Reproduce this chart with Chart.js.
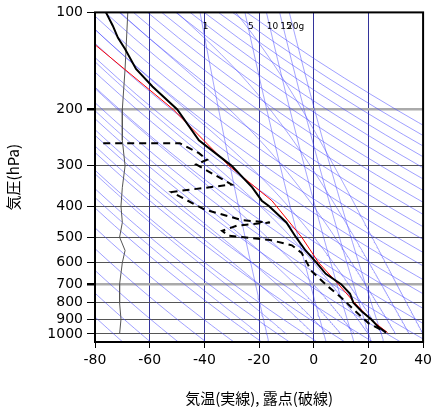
<!DOCTYPE html>
<html>
<head>
<meta charset="utf-8">
<script src="https://cdn.jsdelivr.net/npm/chart.js@4"></script>
<style>
  body { margin: 0; background: #fff; }
  #wrap { width: 436px; height: 411px; }
</style>
</head>
<body>
<div id="wrap"><canvas id="c"></canvas></div>
<script>
// 気温（実線）
const tempP = [100, 110, 120, 130, 150, 170, 200, 250, 300, 350, 385, 400, 450, 500, 550, 600, 650, 700, 750, 800, 850, 900, 950, 990];
const tempT = [-76, -73.5, -71.6, -69, -65, -59, -50, -42, -30, -22.5, -19, -16.4, -10, -6.5, -3, 1, 4.4, 10, 13.3, 14.5, 17.5, 21, 23.6, 26.5];
// 赤線
const parcelP = [126, 200, 300, 385, 500, 600, 700, 800, 900, 990];
const parcelT = [-80, -51.5, -31, -15.3, -4.4, 1.8, 9, 15, 20.7, 27];
// 露点（破線）
const dewP = [255, 255, 274, 287, 297, 343, 359, 362, 410, 443, 450, 460, 478, 495, 510, 530, 560, 600, 635, 715, 770, 845, 925, 970, 985];
const dewT = [-77, -49, -42, -39, -43, -30, -49, -52, -40, -26, -16, -28, -33.5, -31, -16, -8, -4.4, -2.5, -1, 5.5, 10, 15, 20, 24.7, 26];
// 風（左側の細線）
const windP = [100, 150, 200, 250, 300, 350, 400, 450, 500, 550, 600, 700, 800, 900, 1000];
const windT = [-68, -69, -70, -70, -69, -70, -70.5, -70, -71, -69, -70, -71, -71, -70.5, -71];
// 目盛り
const xTicks = [-80, -60, -40, -20, 0, 20, 40];
const yTicks = [100, 200, 300, 400, 500, 600, 700, 800, 900, 1000];
const mixRatios = [1, 5, 10, 15, 20];
const thetas = [];
for (let th = 200; th <= 480; th += 10) thetas.push(th);
const moistStarts = [-20, -10, 0, 5, 10, 15, 20, 25, 30, 35, 40];

const levels = [];
for (let p = 1060; p >= 100; p -= 20) levels.push(p);

function dryLine(th) {
  return levels.map(p => ({ x: th * Math.pow(p / 1000, 0.2857) - 273.15, y: p }));
}
function esat(t) { return 6.112 * Math.exp(17.67 * t / (t + 243.5)); }
function mixLine(w) {
  return levels.map(p => {
    const e = w * p / (622 + w);
    const l = Math.log(e / 6.112);
    return { x: 243.5 * l / (17.67 - l), y: p };
  });
}
function moistLine(t0) {
  const pts = [];
  let t = t0;
  for (let p = 1000; p >= 100; p -= 5) {
    pts.push({ x: t, y: p });
    const T = t + 273.15;
    const rs = 0.622 * esat(t) / (p - esat(t));
    const L = 2.5e6, Rd = 287, cp = 1004, eps = 0.622;
    const dTdp = (Rd * T + L * rs) / (p * (cp + L * L * rs * eps / (Rd * T * T)));
    t -= dTdp * 5;
  }
  return pts;
}

const bg = [];
thetas.forEach(th => bg.push({ data: dryLine(th), borderColor: 'rgba(70,70,255,0.75)', borderWidth: 0.7 }));
moistStarts.forEach(t => bg.push({ data: moistLine(t), borderColor: 'rgba(70,70,255,0.7)', borderWidth: 0.7 }));
mixRatios.forEach(w => bg.push({ data: mixLine(w), borderColor: 'rgba(70,70,255,0.7)', borderWidth: 0.7 }));
bg.forEach(d => { d.showLine = true; d.pointRadius = 0; d.order = 5; });

const toXY = (ps, ts) => ps.map((p, i) => ({ x: ts[i], y: p }));

const labels = {
  id: 'labels',
  afterDatasetsDraw(chart) {
    const { ctx, scales: { x, y } } = chart;
    ctx.save();
    ctx.font = '9px "DejaVu Sans"';
    ctx.fillStyle = '#000';
    ctx.textAlign = 'center';
    mixRatios.forEach(w => {
      const e = w * 110 / (622 + w);
      const l = Math.log(e / 6.112);
      const t = 243.5 * l / (17.67 - l);
      ctx.fillText(w === 20 ? '20g' : String(w), x.getPixelForValue(t) + 3, y.getPixelForValue(113));
    });
    ctx.restore();
  },
  afterDraw(chart) {
    const { ctx, chartArea: a } = chart;
    ctx.save();
    ctx.strokeStyle = '#000';
    ctx.lineWidth = 2;
    ctx.strokeRect(a.left, a.top, a.right - a.left, a.bottom - a.top);
    ctx.restore();
  }
};

new Chart(document.getElementById('c'), {
  type: 'scatter',
  data: {
    datasets: [
      { data: toXY(tempP, tempT), borderColor: '#000', borderWidth: 2, showLine: true, pointRadius: 0, order: 1 },
      { data: toXY(parcelP, parcelT), borderColor: '#f00', borderWidth: 1, showLine: true, pointRadius: 0, order: 2 },
      { data: toXY(dewP, dewT), borderColor: '#000', borderWidth: 2, borderDash: [7, 5], showLine: true, pointRadius: 0, order: 0 },
      { data: toXY(windP, windT), borderColor: '#555', borderWidth: 1, showLine: true, pointRadius: 0, order: 3 },
      ...bg
    ]
  },
  options: {
    responsive: true,
    maintainAspectRatio: false,
    animation: false,
    layout: { padding: { top: 10, right: 11, left: 0, bottom: 0 } },
    plugins: { legend: { display: false }, tooltip: { enabled: false } },
    scales: {
      x: {
        min: -80, max: 40,
        afterBuildTicks: s => { s.ticks = xTicks.map(v => ({ value: v })); },
        afterFit: s => { s.height = 69; },
        grid: { color: '#33339a', lineWidth: 1, tickLength: 6, tickColor: '#000' },
        border: { display: false },
        ticks: { color: '#000', font: { size: 14, family: 'DejaVu Sans' }, padding: 4 },
        title: { display: true, text: '気温(実線), 露点(破線)', color: '#000', font: { size: 15, family: 'Noto Sans CJK JP' }, padding: { top: 10 } }
      },
      y: {
        type: 'logarithmic',
        reverse: true,
        min: 100, max: 1059,
        afterBuildTicks: s => { s.ticks = yTicks.map(v => ({ value: v })); },
        afterFit: s => { s.width = 95; },
        grid: {
          color: ctx => (ctx.tick && (ctx.tick.value === 200 || ctx.tick.value === 700)) ? '#aaa' : '#555',
          lineWidth: ctx => (ctx.tick && (ctx.tick.value === 200 || ctx.tick.value === 700)) ? 2.5 : 1,
          tickLength: 8, tickColor: '#000'
        },
        border: { display: false },
        ticks: { color: '#000', font: { size: 14, family: 'DejaVu Sans' }, padding: 4, callback: v => String(v) },
        title: { display: true, text: '気圧(hPa)', color: '#000', font: { size: 15, family: 'Noto Sans CJK JP' }, padding: { bottom: 2 } }
      }
    }
  },
  plugins: [labels]
});
</script>
</body>
</html>
